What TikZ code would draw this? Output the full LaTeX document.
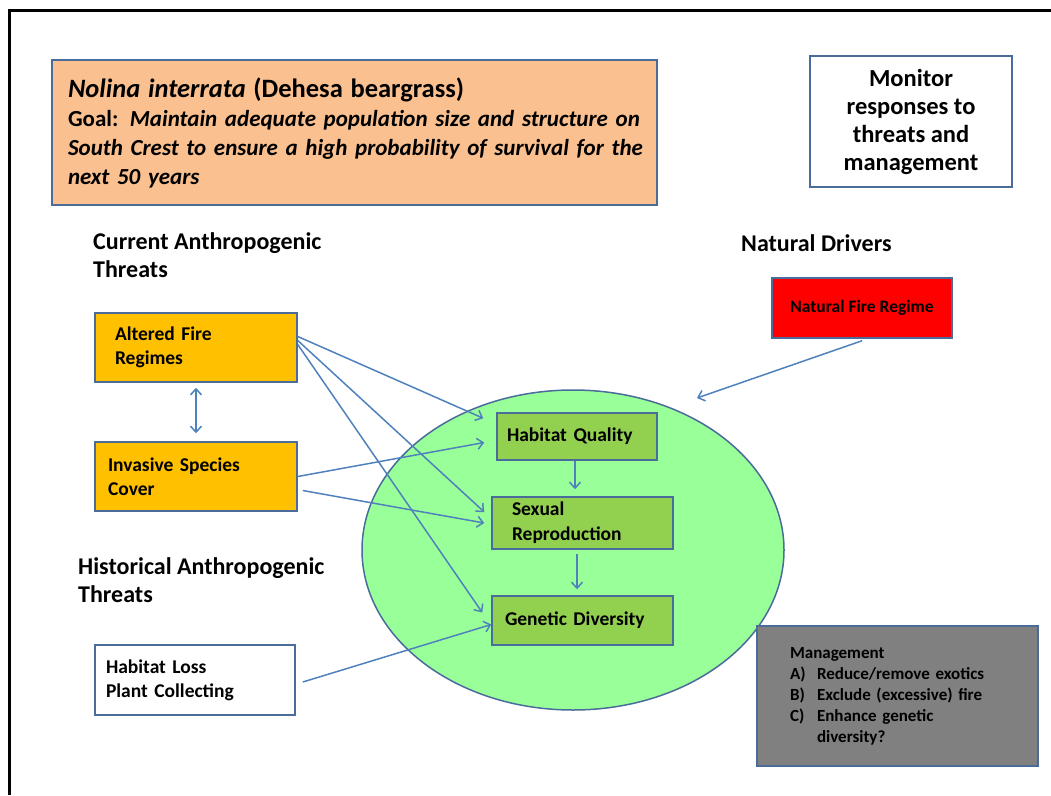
\documentclass[tikz,border=0pt]{standalone}
\usepackage{fontspec}
\setmainfont{Carlito}
\usetikzlibrary{arrows.meta,positioning,shapes.geometric}

\definecolor{boxline}{RGB}{74,108,155}
\definecolor{arrowblue}{RGB}{79,129,189}
\definecolor{peach}{RGB}{250,192,143}
\definecolor{amber}{RGB}{255,192,0}
\definecolor{firered}{RGB}{255,0,0}
\definecolor{palegreen}{RGB}{153,255,153}
\definecolor{olivegreen}{RGB}{146,208,80}
\definecolor{mgmtgray}{RGB}{128,128,128}

\begin{document}
\begin{tikzpicture}[
    x=1pt, y=-1pt,
    box/.style={rectangle, draw=boxline, line width=1.5pt, align=left, font=\fontsize{19.5}{24}\selectfont\bfseries},
    threat/.style={box, fill=amber, text width=#1, minimum height=69pt},
    inner/.style={box, fill=olivegreen, font=\fontsize{19.5}{25}\selectfont\bfseries},
    heading/.style={anchor=west, inner sep=0pt, align=left, font=\fontsize{24}{28}\selectfont\bfseries},
    arrow/.style={-{Straight Barb[length=6pt,width=11pt]}, draw=arrowblue, line width=1.5pt}
]
\useasboundingbox (0,0) rectangle (1051,795);
\draw[line width=3pt] (9,795) -- (9,10) -- (1051,10);

% population ellipse
\node[ellipse, draw=boxline, line width=1.5pt, fill=palegreen,
      minimum width=422pt, minimum height=320pt] (eco) at (573,550) {};

% goal and monitoring
\node[box, fill=peach, inner xsep=16pt, text width=573pt, minimum height=145pt,
      font=\fontsize{23}{29}\selectfont\bfseries] (goal) at (354.5,132.5)
  {{\fontsize{26.5}{29}\selectfont\textit{Nolina interrata} (Dehesa beargrass)}\\
   \mbox{Goal: \textit{Maintain adequate population size and structure on}}\\
   \mbox{\textit{South Crest to ensure a high probability of survival for the}}\\
   \textit{next 50 years}};
\node[box, align=center, minimum width=202pt, minimum height=131pt,
      font=\fontsize{24.5}{28}\selectfont\bfseries] (monitor) at (911,121.5)
  {Monitor\\responses to\\threats and\\management};

% headings
\node[heading] (current) at (93,255) {Current Anthropogenic\\Threats};
\node[heading] (natural) at (741,243) {Natural Drivers};
\node[heading] (historic) at (78,580) {Historical Anthropogenic\\Threats};

% threats
\node[threat=162pt, inner xsep=20pt] (altered) at (196,347.5) {Altered Fire\\Regimes};
\node[threat=176pt, inner xsep=13pt] (invasive) at (196,476.5) {Invasive Species\\Cover};
\node[box, text width=178pt, inner xsep=11pt, minimum height=70pt] (loss) at (195,680)
  {Habitat Loss\\Plant Collecting};
\node[box, fill=firered, align=center, minimum width=180pt, minimum height=60pt,
      font=\fontsize{17.5}{20}\selectfont\bfseries] (natfire) at (862,308) {Natural Fire Regime};

% population responses
\node[inner, text width=140pt, inner xsep=10pt, minimum height=47pt] (quality) at (577,436.5) {Habitat Quality};
\node[inner, text width=141pt, inner xsep=20pt, minimum height=52pt] (sexual) at (582.5,523) {Sexual\\Reproduction};
\node[inner, text width=155pt, inner xsep=13pt, minimum height=49pt] (genetic) at (582.5,620.5) {Genetic Diversity};

% management
\node[box, fill=mgmtgray, inner xsep=33pt, text width=215pt, minimum height=140pt,
      font=\fontsize{17}{21}\selectfont\bfseries] (mgmt) at (897.5,696)
  {\begin{tabular}{@{}p{27pt}@{}l@{}}
   \multicolumn{2}{@{}l}{Management}\\
   A) & Reduce/remove exotics\\
   B) & Exclude (excessive) fire\\
   C) & Enhance genetic\\
      & diversity?
   \end{tabular}};

\coordinate (fireend) at (697,398);

% connectors
\draw[arrow, {Straight Barb[length=6pt,width=11pt]}-{Straight Barb[length=6pt,width=11pt]},
      shorten <=5pt, shorten >=8pt] (altered) -- (invasive);
\draw[arrow] ([yshift=11pt]altered.east) -- ([xshift=-13pt,yshift=-6pt]quality.north west);
\draw[arrow] ([yshift=7pt]altered.east) -- ([xshift=-7pt,yshift=11pt]sexual.west);
\draw[arrow] ([yshift=3pt]altered.east) -- ([xshift=-9pt,yshift=8pt]genetic.west);
\draw[arrow] (invasive.east) -- ([xshift=-12pt,yshift=-6pt]quality.west);
\draw[arrow] ([xshift=5pt,yshift=-14pt]invasive.east) -- ([xshift=-7pt]sexual.west);
\draw[arrow] ([xshift=7pt,yshift=-2pt]loss.east) -- ([yshift=-4pt]genetic.west);
\draw[arrow] ([yshift=-2pt]natfire.south) -- (fireend);
\draw[arrow, shorten >=7pt] ([xshift=-2pt]quality.south) -- ([xshift=-2pt]quality.south |- sexual.north);
\draw[arrow, shorten <=4pt, shorten >=6pt] (sexual.south -| quality.south) -- (quality.south |- genetic.north);
\end{tikzpicture}
\end{document}
